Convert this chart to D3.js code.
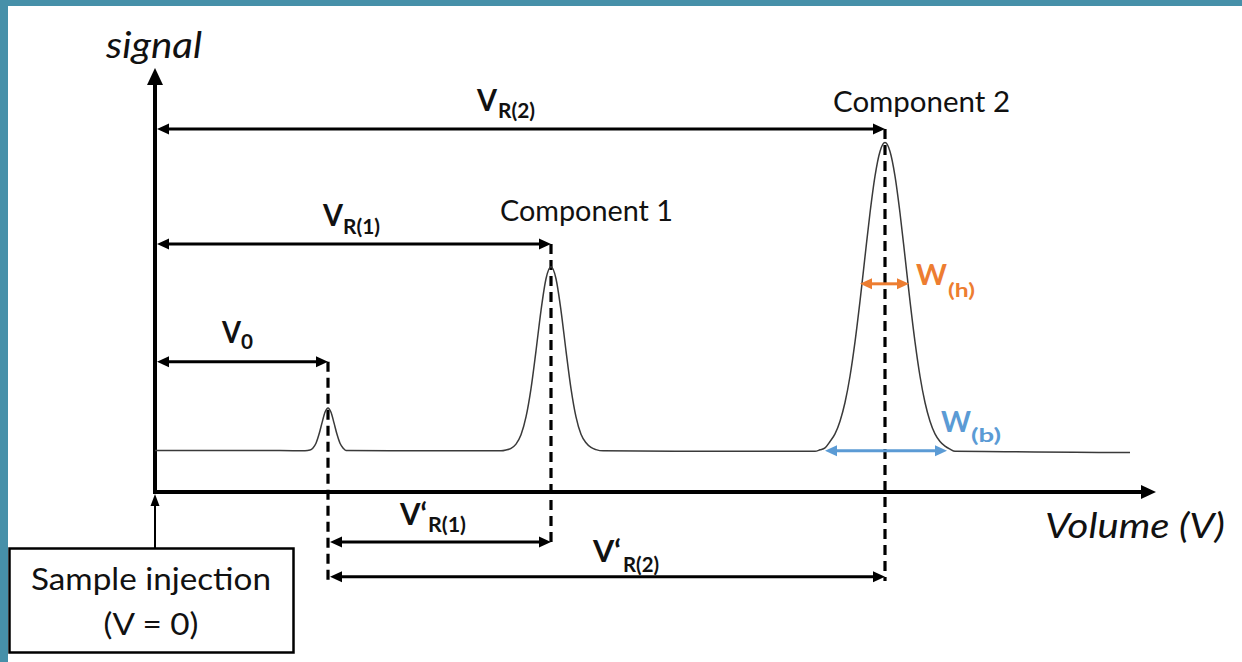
<!DOCTYPE html>
<html><head><meta charset="utf-8">
<script src="https://cdn.jsdelivr.net/npm/d3@7"></script>
<style>html,body{margin:0;padding:0;background:#fff;overflow:hidden}svg{display:block}</style>
</head><body>
<svg id="c" width="1242" height="662"></svg>
<script>
// ---------- data (volume units, signal units) ----------
const curveVolume = [0, 100, 150, 155, 158, 161, 164, 167, 170, 173, 176, 179, 182, 185, 188, 191,
  250, 300, 346, 351, 356, 361, 366, 371, 376, 381, 386, 391, 396, 401, 406, 411, 416, 421, 426, 431, 436, 441, 448,
  520, 600, 660, 665, 670, 675, 680, 685, 690, 695, 700, 705, 710, 715, 720, 725, 730, 735, 740, 745, 750, 755,
  760, 765, 770, 775, 780, 785, 790, 795, 800, 850, 920, 975];
const curveSignal = [9.8, 9.8, 9.75, 9.9, 10.4, 11.5, 13.6, 16.3, 18.8, 19.8, 18.8, 16.3, 13.6, 11.5, 10.4, 9.8,
  9.7, 9.7, 9.7, 9.9, 10.3, 11.3, 13.5, 17.7, 24.4, 33.3, 42.8, 50.3, 53.1, 50.3, 42.8, 33.3, 24.4, 17.7, 13.6, 11.6, 10.5, 10.0, 9.7,
  9.6, 9.6, 9.6, 9.95, 10.4, 11.9, 13.7, 16.7, 21.1, 27.3, 35.4, 45.0, 55.5, 65.8, 74.5, 80.3, 82.4, 80.3, 74.5, 65.8, 55.5, 45.0,
  35.4, 27.3, 21.1, 16.7, 13.7, 11.9, 10.8, 10.1, 9.6, 9.5, 9.35, 9.3];
const peakLabels = ["Component 1", "Component 2"];
const peakVolume = [173, 396, 730];      // V0, VR(1), VR(2)
const peakSignal = [19.8, 53.1, 82.4];
const halfWidthVolume = [705, 754];      // W(h)
const halfWidthSignal = 49.1;
const baseWidthVolume = [670, 792];      // W(b)
const baseSignal = 9.7;

// ---------- scales ----------
const x = d3.scaleLinear().domain([0, 1000]).range([155, 1155]);
const y = d3.scaleLinear().domain([0, 100]).range([492, 68]);

const svg = d3.select('#c');
const FONT = "Lato, 'Open Sans', sans-serif";

// frame
svg.append('rect').attr('x', 0).attr('y', 0).attr('width', 1242).attr('height', 662).attr('fill', '#fff');
svg.append('rect').attr('x', 0).attr('y', 0).attr('width', 1242).attr('height', 6).attr('fill', '#4690a9');
svg.append('rect').attr('x', 0).attr('y', 0).attr('width', 8).attr('height', 662).attr('fill', '#4690a9');

// helper: arrow head polygon, tip at (tx,ty), direction dir: 'l','r','u'
function head(g, tx, ty, dir, len, hw, color) {
  let pts;
  if (dir === 'r') pts = [[tx, ty], [tx - len, ty - hw], [tx - len, ty + hw]];
  else if (dir === 'l') pts = [[tx, ty], [tx + len, ty - hw], [tx + len, ty + hw]];
  else pts = [[tx, ty], [tx - hw, ty + len], [tx + hw, ty + len]];
  g.append('path').attr('d', d3.line()(pts) + 'Z').attr('fill', color);
}
function dimArrow(x1, x2, yy, color, sw) {
  const len = 12, hw = 5.5;
  svg.append('line').attr('x1', x1 + len - 1).attr('x2', x2 - len + 1).attr('y1', yy).attr('y2', yy)
    .attr('stroke', color).attr('stroke-width', sw);
  head(svg, x1, yy, 'l', len, hw, color);
  head(svg, x2, yy, 'r', len, hw, color);
}

// axes
svg.append('line').attr('x1', x(0)).attr('x2', x(0)).attr('y1', y(0) + 2).attr('y2', y(100) + 15)
  .attr('stroke', '#000').attr('stroke-width', 4);
head(svg, x(0), y(100), 'u', 17, 8, '#000');
svg.append('line').attr('x1', x(0) - 2).attr('x2', x(1000) - 13).attr('y1', y(0)).attr('y2', y(0))
  .attr('stroke', '#000').attr('stroke-width', 4);
head(svg, x(1000) + 1, y(0), 'r', 15, 7, '#000');

// dashed verticals
const dashTop = [30.7, 58.5, 85.6];
const dashBottom = [-21, -12.5, -21];
peakVolume.forEach((v, i) => {
  svg.append('line').attr('x1', x(v)).attr('x2', x(v)).attr('y1', y(dashTop[i])).attr('y2', y(dashBottom[i]))
    .attr('stroke', '#000').attr('stroke-width', 3.2).attr('stroke-dasharray', '10,6');
});

// chromatogram
const line = d3.line().x((d, i) => x(curveVolume[i])).y((d, i) => y(curveSignal[i])).curve(d3.curveMonotoneX);
svg.append('path').attr('d', line(curveVolume)).attr('fill', 'none').attr('stroke', '#3a3a3a').attr('stroke-width', 1.5);

// dimension arrows
dimArrow(x(0) + 2, x(peakVolume[2]), y(85.6), '#000', 3);
dimArrow(x(0) + 2, x(peakVolume[1]), y(58.5), '#000', 3);
dimArrow(x(0) + 2, x(peakVolume[0]), y(30.7), '#000', 3);
dimArrow(x(peakVolume[0]) + 2, x(peakVolume[1]), y(-11.8), '#000', 3);
dimArrow(x(peakVolume[0]) + 2, x(peakVolume[2]), y(-20), '#000', 3);
dimArrow(x(halfWidthVolume[0]), x(halfWidthVolume[1]), y(halfWidthSignal), '#ED7D31', 3);
dimArrow(x(baseWidthVolume[0]), x(baseWidthVolume[1]), y(baseSignal), '#5B9BD5', 3);

// text helper
function txt(t, px, py, size, opts = {}) {
  const el = svg.append('text').attr('x', px).attr('y', py).text(t)
    .attr('font-family', FONT).attr('font-size', size)
    .attr('fill', opts.fill || '#111')
    .attr('font-weight', opts.bold ? 'bold' : 'normal')
    .attr('font-style', opts.italic ? 'italic' : 'normal');
  if (opts.anchor) el.attr('text-anchor', opts.anchor);
  if (opts.len) el.attr('textLength', opts.len).attr('lengthAdjust', 'spacingAndGlyphs');
  return el;
}

txt('signal', 106, 58, 36, {italic: true, len: 96});
txt('Volume (V)', 1045, 538, 35, {italic: true, len: 180});
txt(peakLabels[0], 500, 221, 28, {len: 173});
txt(peakLabels[1], 833, 112, 28, {len: 177});

// V labels
txt('V', 477, 111, 30, {bold: true, len: 20});
txt('R(2)', 498, 118, 21, {bold: true, len: 37});
txt('V', 323, 226, 30, {bold: true, len: 20});
txt('R(1)', 343, 234, 21, {bold: true, len: 37});
txt('V', 222, 343, 30, {bold: true, len: 19});
txt('0', 241, 349, 21, {bold: true, len: 12});
txt('V\u2018', 400, 525, 30, {bold: true, len: 27});
txt('R(1)', 428, 532, 21, {bold: true, len: 38});
txt('V\u2018', 593, 562, 30, {bold: true, len: 28});
txt('R(2)', 623, 572, 21, {bold: true, len: 36});

// W labels
txt('W', 916, 285, 28, {bold: true, fill: '#ED7D31', len: 31});
txt('(h)', 948, 297, 19, {bold: true, fill: '#ED7D31', len: 27});
txt('W', 941, 432, 28, {bold: true, fill: '#5B9BD5', len: 30});
txt('(b)', 971, 442, 19, {bold: true, fill: '#5B9BD5', len: 30});

// sample injection box + arrow
svg.append('rect').attr('x', 9.5).attr('y', 548.5).attr('width', 284).attr('height', 104)
  .attr('fill', '#fff').attr('stroke', '#000').attr('stroke-width', 2.5);
svg.append('line').attr('x1', x(0)).attr('x2', x(0)).attr('y1', 548).attr('y2', y(0) + 12)
  .attr('stroke', '#000').attr('stroke-width', 2);
head(svg, x(0), y(0) + 2, 'u', 12, 4.5, '#000');
txt('Sample injection', 151, 590, 30, {anchor: 'middle', len: 240});
txt('(V = 0)', 151, 635, 30, {anchor: 'middle', len: 95});
</script>
</body></html>
